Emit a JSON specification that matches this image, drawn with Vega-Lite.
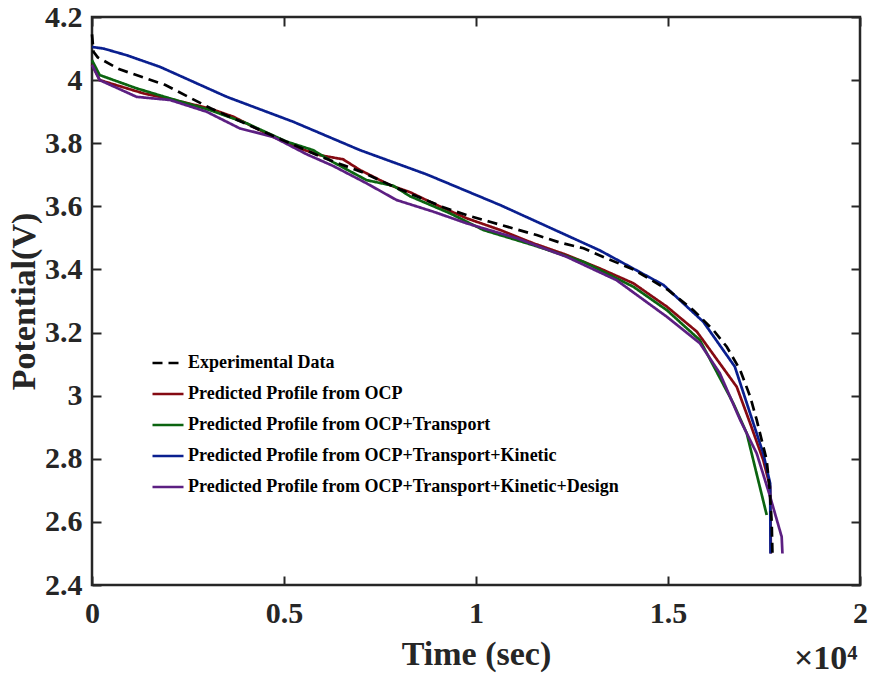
{
  "$schema": "https://vega.github.io/schema/vega-lite/v6.json",
  "width": 768,
  "height": 568,
  "autosize": {"type": "none"},
  "padding": {"left": 92, "top": 17, "right": 12, "bottom": 92},
  "background": "white",
  "title": {
    "text": "×10⁴",
    "orient": "bottom",
    "anchor": "end",
    "font": "Liberation Serif",
    "fontSize": 34,
    "fontWeight": "bold",
    "color": "#262626",
    "offset": -29,
    "dx": -10
  },
  "config": {
    "view": {"stroke": "#262626", "strokeWidth": 2.5},
    "axis": {
      "grid": false,
      "domain": false,
      "tickColor": "#262626",
      "tickWidth": 2,
      "tickSize": 9,
      "offset": -9,
      "labelFont": "Liberation Serif",
      "labelFontWeight": "bold",
      "labelFontSize": 30,
      "labelColor": "#262626",
      "titleFont": "Liberation Serif",
      "titleFontWeight": "bold",
      "titleFontSize": 34,
      "titleColor": "#262626"
    }
  },
  "datasets": {
    "d": [
      {"t": 0, "v": 4.05, "s": "Predicted Profile from OCP"},
      {"t": 200, "v": 4.0, "s": "Predicted Profile from OCP"},
      {"t": 1340, "v": 3.958, "s": "Predicted Profile from OCP"},
      {"t": 2030, "v": 3.94, "s": "Predicted Profile from OCP"},
      {"t": 3070, "v": 3.91, "s": "Predicted Profile from OCP"},
      {"t": 3680, "v": 3.884, "s": "Predicted Profile from OCP"},
      {"t": 4720, "v": 3.82, "s": "Predicted Profile from OCP"},
      {"t": 5420, "v": 3.783, "s": "Predicted Profile from OCP"},
      {"t": 5940, "v": 3.762, "s": "Predicted Profile from OCP"},
      {"t": 6540, "v": 3.749, "s": "Predicted Profile from OCP"},
      {"t": 6980, "v": 3.715, "s": "Predicted Profile from OCP"},
      {"t": 7760, "v": 3.667, "s": "Predicted Profile from OCP"},
      {"t": 8280, "v": 3.645, "s": "Predicted Profile from OCP"},
      {"t": 8890, "v": 3.609, "s": "Predicted Profile from OCP"},
      {"t": 9760, "v": 3.562, "s": "Predicted Profile from OCP"},
      {"t": 10630, "v": 3.525, "s": "Predicted Profile from OCP"},
      {"t": 11490, "v": 3.483, "s": "Predicted Profile from OCP"},
      {"t": 12360, "v": 3.446, "s": "Predicted Profile from OCP"},
      {"t": 13230, "v": 3.403, "s": "Predicted Profile from OCP"},
      {"t": 14100, "v": 3.356, "s": "Predicted Profile from OCP"},
      {"t": 14970, "v": 3.282, "s": "Predicted Profile from OCP"},
      {"t": 15750, "v": 3.203, "s": "Predicted Profile from OCP"},
      {"t": 16570, "v": 3.065, "s": "Predicted Profile from OCP"},
      {"t": 16790, "v": 3.028, "s": "Predicted Profile from OCP"},
      {"t": 17140, "v": 2.912, "s": "Predicted Profile from OCP"},
      {"t": 17480, "v": 2.796, "s": "Predicted Profile from OCP"},
      {"t": 17660, "v": 2.711, "s": "Predicted Profile from OCP"},
      {"t": 17680, "v": 2.5, "s": "Predicted Profile from OCP"},

      {"t": 0, "v": 4.063, "s": "Predicted Profile from OCP+Transport"},
      {"t": 200, "v": 4.016, "s": "Predicted Profile from OCP+Transport"},
      {"t": 1160, "v": 3.974, "s": "Predicted Profile from OCP+Transport"},
      {"t": 2030, "v": 3.942, "s": "Predicted Profile from OCP+Transport"},
      {"t": 3070, "v": 3.905, "s": "Predicted Profile from OCP+Transport"},
      {"t": 4030, "v": 3.863, "s": "Predicted Profile from OCP+Transport"},
      {"t": 5070, "v": 3.805, "s": "Predicted Profile from OCP+Transport"},
      {"t": 5760, "v": 3.778, "s": "Predicted Profile from OCP+Transport"},
      {"t": 6280, "v": 3.74, "s": "Predicted Profile from OCP+Transport"},
      {"t": 7150, "v": 3.683, "s": "Predicted Profile from OCP+Transport"},
      {"t": 7850, "v": 3.665, "s": "Predicted Profile from OCP+Transport"},
      {"t": 8280, "v": 3.632, "s": "Predicted Profile from OCP+Transport"},
      {"t": 9320, "v": 3.578, "s": "Predicted Profile from OCP+Transport"},
      {"t": 10190, "v": 3.525, "s": "Predicted Profile from OCP+Transport"},
      {"t": 11490, "v": 3.477, "s": "Predicted Profile from OCP+Transport"},
      {"t": 12800, "v": 3.424, "s": "Predicted Profile from OCP+Transport"},
      {"t": 14100, "v": 3.345, "s": "Predicted Profile from OCP+Transport"},
      {"t": 14970, "v": 3.271, "s": "Predicted Profile from OCP+Transport"},
      {"t": 15830, "v": 3.176, "s": "Predicted Profile from OCP+Transport"},
      {"t": 16700, "v": 2.976, "s": "Predicted Profile from OCP+Transport"},
      {"t": 17050, "v": 2.881, "s": "Predicted Profile from OCP+Transport"},
      {"t": 17570, "v": 2.622, "s": "Predicted Profile from OCP+Transport"},

      {"t": 0, "v": 4.105, "s": "Predicted Profile from OCP+Transport+Kinetic"},
      {"t": 300, "v": 4.1, "s": "Predicted Profile from OCP+Transport+Kinetic"},
      {"t": 900, "v": 4.079, "s": "Predicted Profile from OCP+Transport+Kinetic"},
      {"t": 1770, "v": 4.042, "s": "Predicted Profile from OCP+Transport+Kinetic"},
      {"t": 3510, "v": 3.947, "s": "Predicted Profile from OCP+Transport+Kinetic"},
      {"t": 5240, "v": 3.868, "s": "Predicted Profile from OCP+Transport+Kinetic"},
      {"t": 6980, "v": 3.778, "s": "Predicted Profile from OCP+Transport+Kinetic"},
      {"t": 8720, "v": 3.701, "s": "Predicted Profile from OCP+Transport+Kinetic"},
      {"t": 10630, "v": 3.604, "s": "Predicted Profile from OCP+Transport+Kinetic"},
      {"t": 13230, "v": 3.46, "s": "Predicted Profile from OCP+Transport+Kinetic"},
      {"t": 14880, "v": 3.351, "s": "Predicted Profile from OCP+Transport+Kinetic"},
      {"t": 15920, "v": 3.234, "s": "Predicted Profile from OCP+Transport+Kinetic"},
      {"t": 16740, "v": 3.092, "s": "Predicted Profile from OCP+Transport+Kinetic"},
      {"t": 17480, "v": 2.817, "s": "Predicted Profile from OCP+Transport+Kinetic"},
      {"t": 17660, "v": 2.722, "s": "Predicted Profile from OCP+Transport+Kinetic"},
      {"t": 17670, "v": 2.5, "s": "Predicted Profile from OCP+Transport+Kinetic"},

      {"t": 0, "v": 4.048, "s": "Predicted Profile from OCP+Transport+Kinetic+Design"},
      {"t": 200, "v": 4.0, "s": "Predicted Profile from OCP+Transport+Kinetic+Design"},
      {"t": 1160, "v": 3.947, "s": "Predicted Profile from OCP+Transport+Kinetic+Design"},
      {"t": 2030, "v": 3.937, "s": "Predicted Profile from OCP+Transport+Kinetic+Design"},
      {"t": 2980, "v": 3.9, "s": "Predicted Profile from OCP+Transport+Kinetic+Design"},
      {"t": 3850, "v": 3.847, "s": "Predicted Profile from OCP+Transport+Kinetic+Design"},
      {"t": 4720, "v": 3.82, "s": "Predicted Profile from OCP+Transport+Kinetic+Design"},
      {"t": 5590, "v": 3.765, "s": "Predicted Profile from OCP+Transport+Kinetic+Design"},
      {"t": 6280, "v": 3.728, "s": "Predicted Profile from OCP+Transport+Kinetic+Design"},
      {"t": 7150, "v": 3.673, "s": "Predicted Profile from OCP+Transport+Kinetic+Design"},
      {"t": 7930, "v": 3.62, "s": "Predicted Profile from OCP+Transport+Kinetic+Design"},
      {"t": 8890, "v": 3.583, "s": "Predicted Profile from OCP+Transport+Kinetic+Design"},
      {"t": 9760, "v": 3.546, "s": "Predicted Profile from OCP+Transport+Kinetic+Design"},
      {"t": 11060, "v": 3.499, "s": "Predicted Profile from OCP+Transport+Kinetic+Design"},
      {"t": 12360, "v": 3.44, "s": "Predicted Profile from OCP+Transport+Kinetic+Design"},
      {"t": 13660, "v": 3.366, "s": "Predicted Profile from OCP+Transport+Kinetic+Design"},
      {"t": 14970, "v": 3.25, "s": "Predicted Profile from OCP+Transport+Kinetic+Design"},
      {"t": 15830, "v": 3.166, "s": "Predicted Profile from OCP+Transport+Kinetic+Design"},
      {"t": 16350, "v": 3.071, "s": "Predicted Profile from OCP+Transport+Kinetic+Design"},
      {"t": 16880, "v": 2.923, "s": "Predicted Profile from OCP+Transport+Kinetic+Design"},
      {"t": 17310, "v": 2.817, "s": "Predicted Profile from OCP+Transport+Kinetic+Design"},
      {"t": 17660, "v": 2.68, "s": "Predicted Profile from OCP+Transport+Kinetic+Design"},
      {"t": 17960, "v": 2.553, "s": "Predicted Profile from OCP+Transport+Kinetic+Design"},
      {"t": 17980, "v": 2.5, "s": "Predicted Profile from OCP+Transport+Kinetic+Design"},

      {"t": 0, "v": 4.145, "s": "Experimental Data"},
      {"t": 40, "v": 4.09, "s": "Experimental Data"},
      {"t": 150, "v": 4.072, "s": "Experimental Data"},
      {"t": 700, "v": 4.035, "s": "Experimental Data"},
      {"t": 1900, "v": 3.985, "s": "Experimental Data"},
      {"t": 3100, "v": 3.91, "s": "Experimental Data"},
      {"t": 4500, "v": 3.835, "s": "Experimental Data"},
      {"t": 6000, "v": 3.755, "s": "Experimental Data"},
      {"t": 7000, "v": 3.71, "s": "Experimental Data"},
      {"t": 8000, "v": 3.655, "s": "Experimental Data"},
      {"t": 9150, "v": 3.597, "s": "Experimental Data"},
      {"t": 9760, "v": 3.572, "s": "Experimental Data"},
      {"t": 10360, "v": 3.551, "s": "Experimental Data"},
      {"t": 10970, "v": 3.53, "s": "Experimental Data"},
      {"t": 11580, "v": 3.509, "s": "Experimental Data"},
      {"t": 12190, "v": 3.485, "s": "Experimental Data"},
      {"t": 12800, "v": 3.467, "s": "Experimental Data"},
      {"t": 13400, "v": 3.435, "s": "Experimental Data"},
      {"t": 14100, "v": 3.4, "s": "Experimental Data"},
      {"t": 15000, "v": 3.335, "s": "Experimental Data"},
      {"t": 15660, "v": 3.271, "s": "Experimental Data"},
      {"t": 16180, "v": 3.208, "s": "Experimental Data"},
      {"t": 16530, "v": 3.155, "s": "Experimental Data"},
      {"t": 16880, "v": 3.081, "s": "Experimental Data"},
      {"t": 17140, "v": 2.997, "s": "Experimental Data"},
      {"t": 17310, "v": 2.923, "s": "Experimental Data"},
      {"t": 17440, "v": 2.859, "s": "Experimental Data"},
      {"t": 17570, "v": 2.796, "s": "Experimental Data"},
      {"t": 17650, "v": 2.7, "s": "Experimental Data"},
      {"t": 17700, "v": 2.6, "s": "Experimental Data"},
      {"t": 17720, "v": 2.5, "s": "Experimental Data"}
    ]
  },
  "layer": [
    {
      "data": {"name": "d"},
      "mark": {"type": "line", "strokeWidth": 2.7},
      "encoding": {
        "x": {
          "field": "t",
          "type": "quantitative",
          "scale": {"domain": [0, 20000], "nice": false, "zero": false},
          "axis": {
            "orient": "bottom",
            "values": [0, 5000, 10000, 15000, 20000],
            "labelExpr": "format(datum.value / 10000, '~g')",
            "title": "Time (sec)",
            "labelPadding": 13,
            "titlePadding": 9,
            "labelFlush": false
          }
        },
        "y": {
          "field": "v",
          "type": "quantitative",
          "scale": {"domain": [2.4, 4.2], "nice": false, "zero": false},
          "axis": {
            "orient": "left",
            "values": [2.4, 2.6, 2.8, 3.0, 3.2, 3.4, 3.6, 3.8, 4.0, 4.2],
            "format": "~g",
            "title": "Potential(V)",
            "labelPadding": 10,
            "titlePadding": 3,
            "labelFlush": false
          }
        },
        "color": {
          "field": "s",
          "type": "nominal",
          "scale": {
            "domain": ["Experimental Data", "Predicted Profile from OCP", "Predicted Profile from OCP+Transport", "Predicted Profile from OCP+Transport+Kinetic", "Predicted Profile from OCP+Transport+Kinetic+Design"],
            "range": ["#000000", "#850a12", "#0b6410", "#0a1f8f", "#5c1f82"]
          },
          "legend": {
            "title": null,
            "orient": "none",
            "legendX": 59,
            "legendY": 329,
            "symbolType": "stroke",
            "symbolSize": 961,
            "symbolStrokeWidth": 2.7,
            "labelFont": "Liberation Serif",
            "labelFontWeight": "bold",
            "labelFontSize": 18,
            "labelColor": "#000000",
            "labelLimit": 0,
            "labelOffset": 3,
            "rowPadding": 5
          }
        },
        "strokeDash": {
          "field": "s",
          "type": "nominal",
          "scale": {
            "domain": ["Experimental Data", "Predicted Profile from OCP", "Predicted Profile from OCP+Transport", "Predicted Profile from OCP+Transport+Kinetic", "Predicted Profile from OCP+Transport+Kinetic+Design"],
            "range": [[10, 6], [1, 0], [1, 0], [1, 0], [1, 0]]
          },
          "legend": {
            "title": null,
            "orient": "none",
            "legendX": 59,
            "legendY": 329,
            "symbolType": "stroke",
            "symbolSize": 961,
            "symbolStrokeWidth": 2.7,
            "labelFont": "Liberation Serif",
            "labelFontWeight": "bold",
            "labelFontSize": 18,
            "labelColor": "#000000",
            "labelLimit": 0,
            "labelOffset": 3,
            "rowPadding": 5
          }
        }
      }
    },
    {
      "data": {"name": "d"},
      "mark": {"type": "point", "opacity": 0},
      "encoding": {
        "x": {
          "field": "t",
          "type": "quantitative",
          "scale": {"domain": [0, 20000], "nice": false, "zero": false},
          "axis": {"orient": "top", "values": [0, 5000, 10000, 15000, 20000], "labels": false, "title": null}
        },
        "y": {
          "field": "v",
          "type": "quantitative",
          "scale": {"domain": [2.4, 4.2], "nice": false, "zero": false},
          "axis": {"orient": "right", "values": [2.4, 2.6, 2.8, 3.0, 3.2, 3.4, 3.6, 3.8, 4.0, 4.2], "labels": false, "title": null}
        }
      }
    }
  ],
  "resolve": {"axis": {"x": "independent", "y": "independent"}}
}
